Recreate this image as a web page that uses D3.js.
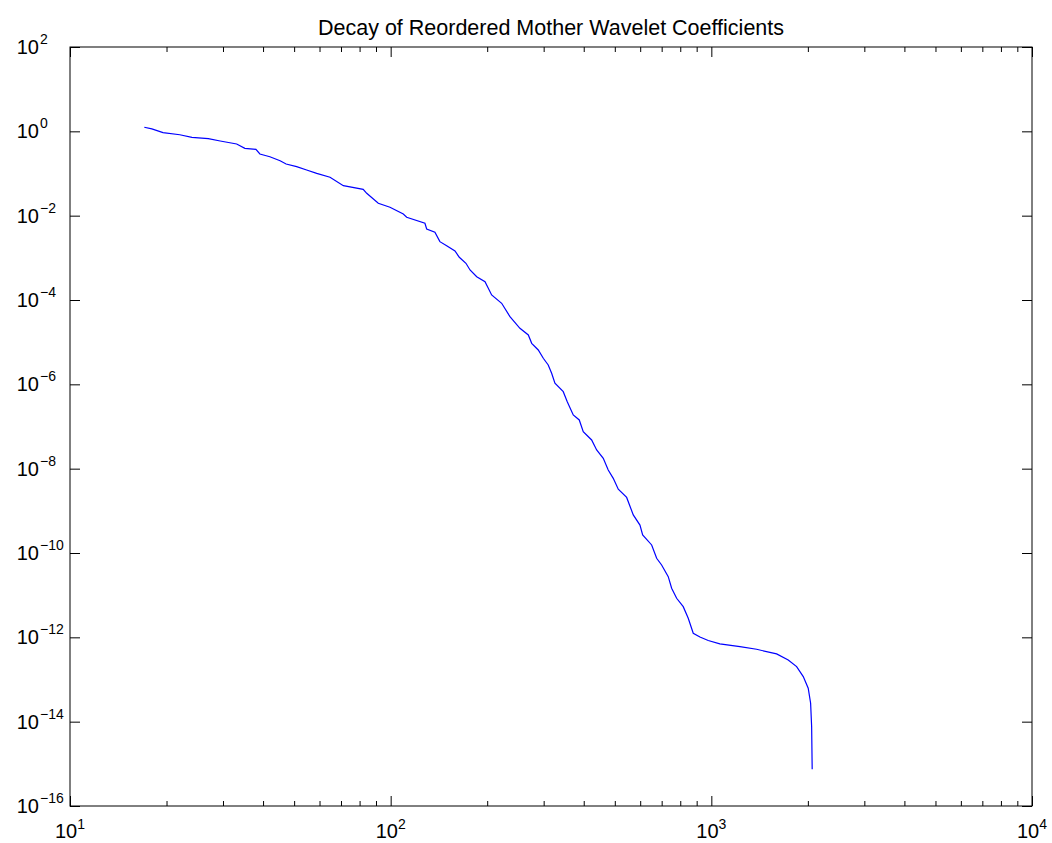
<!DOCTYPE html>
<html>
<head>
<meta charset="utf-8">
<script src="https://cdn.jsdelivr.net/npm/d3@7"></script>
<style>
  body { margin: 0; background: #fff; }
  text { font-family: "Liberation Sans", Arial, Helvetica, sans-serif; fill: #000; }
</style>
</head>
<body>
<svg id="chart" width="1052" height="843"></svg>
<script>
// coefficient index (sorted) and magnitude
const idx = [17.05, 18.0, 19.5, 22.0, 24.0, 27.0, 29.4, 33.1, 35.1, 38.0, 39.1, 42.0, 45.2, 47.2, 50.9, 54.7, 58.8, 64.7,
  71.2, 82.1, 84.2, 91.5, 99.5, 109.5, 112.2, 127.9, 129.5, 137.4, 142.4, 149.5, 158.7, 163.7, 171.7, 176.8, 185.5,
  196.9, 206.5, 221.9, 235.5, 253.0, 268.7, 275.3, 288.6, 299.2, 310.0, 317.7, 325.3, 345.3, 355.4, 371.0, 387.4,
  398.6, 423.4, 438.9, 460.3, 476.9, 494.5, 512.6, 544.4,
  570.9, 599.0, 610.7, 651.5, 675.3, 699.8, 733.9, 752.0, 779.5, 817.3, 847.2, 878.2, 921.5, 977.9, 1063, 1228,
  1384, 1598, 1737, 1845, 1935, 2005, 2040, 2055, 2063];
const coef = [1.25, 1.14, 0.93, 0.83, 0.72, 0.67, 0.59, 0.50, 0.396, 0.375, 0.29, 0.25, 0.20, 0.168, 0.145, 0.121, 0.101, 0.0813,
  0.0514, 0.0422, 0.0339, 0.0197, 0.0158, 0.01096, 0.00915, 0.0066, 0.00483, 0.00403, 0.00242, 0.00194, 0.00145, 0.00103, 7.43e-4, 5.15e-4, 3.57e-4,
  2.72e-4, 1.32e-4, 8.36e-5, 4.02e-5, 2.13e-5, 1.48e-5, 9.4e-6, 6.53e-6, 4.15e-6, 2.88e-6, 1.83e-6, 1.06e-6, 6.7e-7, 3.88e-7, 1.88e-7, 1.43e-7,
  7.54e-8, 4.79e-8, 2.78e-8, 1.76e-8, 9.3e-9, 5.9e-9, 3.25e-9, 2.08e-9,
  8.0e-10, 4.6e-10, 2.68e-10, 1.55e-10, 7.5e-11, 5.2e-11, 2.75e-11, 1.46e-11, 8.45e-12, 5.34e-12, 2.83e-12, 1.25e-12, 1.02e-12, 8.43e-13, 6.97e-13, 6.0e-13,
  5.21e-13, 4.04e-13, 2.91e-13, 2.02e-13, 1.17e-13, 6.2e-14, 2.73e-14, 7.6e-15, 7.4e-16];

const xExp = [1, 2, 3, 4];
const yExp = [2, 0, -2, -4, -6, -8, -10, -12, -14, -16];
const title = "Decay of Reordered Mother Wavelet Coefficients";

const box = {left: 70, right: 1032, top: 47, bottom: 806};

const svg = d3.select("#chart");

let x = d3.scaleLog().domain([10, 1e4]).range([box.left, box.right]);
let y = d3.scaleLog().domain([1e-16, 1e2]).range([box.bottom, box.top]);

const xMajor = xExp.map(e => Math.pow(10, e));
const yMajor = yExp.map(e => Math.pow(10, e));
let xMinor = [];
xExp.slice(0, -1).forEach(e => {
  for (let m = 2; m <= 9; m++) xMinor.push(m * Math.pow(10, e));
});

// the curve
svg.append("path")
    .datum(idx.map((d, i) => [d, coef[i]]))
    .attr("fill", "none")
    .attr("stroke", "#0000ff")
    .attr("stroke-width", 1.2)
    .attr("d", d3.line()
      .x(d => x(d[0]))
      .y(d => y(d[1])));

// ticks point inwards on all four sides
const tickStyle = g => {
  g.select(".domain").remove();
  g.selectAll(".tick line").attr("stroke", "#000").attr("stroke-width", 1);
};

svg.append("g").attr("transform", `translate(0,${box.bottom})`)
    .call(d3.axisBottom(x).tickValues(xMajor).tickSize(-10).tickFormat(""))
    .call(tickStyle);
svg.append("g").attr("transform", `translate(0,${box.bottom})`)
    .call(d3.axisBottom(x).tickValues(xMinor).tickSize(-5).tickFormat(""))
    .call(tickStyle);
svg.append("g").attr("transform", `translate(0,${box.top})`)
    .call(d3.axisTop(x).tickValues(xMajor).tickSize(-10).tickFormat(""))
    .call(tickStyle);
svg.append("g").attr("transform", `translate(0,${box.top})`)
    .call(d3.axisTop(x).tickValues(xMinor).tickSize(-5).tickFormat(""))
    .call(tickStyle);
svg.append("g").attr("transform", `translate(${box.left},0)`)
    .call(d3.axisLeft(y).tickValues(yMajor).tickSize(-10).tickFormat(""))
    .call(tickStyle);
svg.append("g").attr("transform", `translate(${box.right},0)`)
    .call(d3.axisRight(y).tickValues(yMajor).tickSize(-10).tickFormat(""))
    .call(tickStyle);

// box
svg.append("rect")
    .attr("x", box.left).attr("y", box.top)
    .attr("width", box.right - box.left).attr("height", box.bottom - box.top)
    .attr("fill", "none")
    .attr("stroke", "#000")
    .attr("stroke-width", 1);

const sup = e => (e < 0 ? "\u2212" + (-e) : "" + e);

// x labels: 10 with superscript, centred on tick
xExp.forEach(e => {
  const t = svg.append("text")
      .attr("x", x(Math.pow(10, e)))
      .attr("y", 838)
      .attr("text-anchor", "middle")
      .style("font-size", "20px");
  t.append("tspan").text("10");
  t.append("tspan").attr("dy", -9).style("font-size", "14px").text(sup(e));
});

// y labels: base "10" right aligned, exponent hanging to the right
yExp.forEach(e => {
  const py = y(Math.pow(10, e));
  svg.append("text")
      .attr("x", 39).attr("y", py + 7)
      .attr("text-anchor", "end")
      .style("font-size", "20px")
      .text("10");
  svg.append("text")
      .attr("x", 40).attr("y", py - 3)
      .style("font-size", "14px")
      .text(sup(e));
});

svg.append("text")
    .attr("x", (box.left + box.right) / 2)
    .attr("y", 35)
    .attr("text-anchor", "middle")
    .style("font-size", "21.5px")
    .text(title);
</script>
</body>
</html>
